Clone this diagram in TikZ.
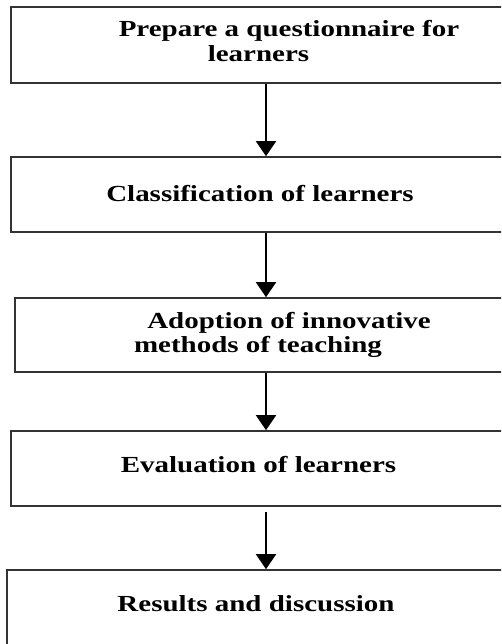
\documentclass[tikz,border=0pt]{standalone}
\usepackage{fontspec}
\newfontfamily\lblfont{Liberation Serif}[FakeStretch=1.26]
\usetikzlibrary{arrows.meta}
\definecolor{edge}{HTML}{333333}
\tikzset{
  box/.style={draw=edge, line width=1.6pt, rectangle, inner sep=0pt},
  lbl/.style={anchor=base, inner sep=0pt, font=\lblfont\bfseries\fontsize{23}{25}\selectfont, text=black},
  arr/.style={draw=black, line width=1.8pt, -{Triangle[width=20pt,length=15pt]}}
}
\begin{document}
\begin{tikzpicture}[x=1pt,y=1pt]
\fill[white] (0,0) rectangle (501,644);
\useasboundingbox (0,0) rectangle (501,644);
\begin{scope}
\clip (0,0) rectangle (501,644);
\node[box, minimum width=529pt, minimum height=76pt] (b1) at (275.5,599) {};
\node[box, minimum width=529pt, minimum height=75pt] (b2) at (275.5,449.5) {};
\node[box, minimum width=525pt, minimum height=74pt] (b3) at (277.5,309) {};
\node[box, minimum width=529pt, minimum height=75pt] (b4) at (275.5,175.5) {};
\node[box, minimum width=533pt, minimum height=90pt] (b5) at (273.5,29) {};
\end{scope}
\node[lbl] (t1a) at (289,607.3) {Prepare a questionnaire for};
\node[lbl] (t1b) at (258.5,582.3) {learners};
\node[lbl] (t2) at (260,442) {Classification of learners};
\node[lbl] (t3a) at (289,315) {Adoption of innovative};
\node[lbl] (t3b) at (258,291) {methods of teaching};
\node[lbl] (t4) at (258.5,171) {Evaluation of learners};
\node[lbl] (t5) at (256,32) {Results and discussion};
\coordinate (ax) at (266,0);
\draw[arr] (ax |- b1.south) -- (ax |- b2.north);
\draw[arr] (ax |- b2.south) -- (ax |- b3.north);
\draw[arr] (ax |- b3.south) -- (ax |- b4.north);
\draw[arr, shorten <=5pt] (ax |- b4.south) -- (ax |- b5.north);
\end{tikzpicture}
\end{document}
